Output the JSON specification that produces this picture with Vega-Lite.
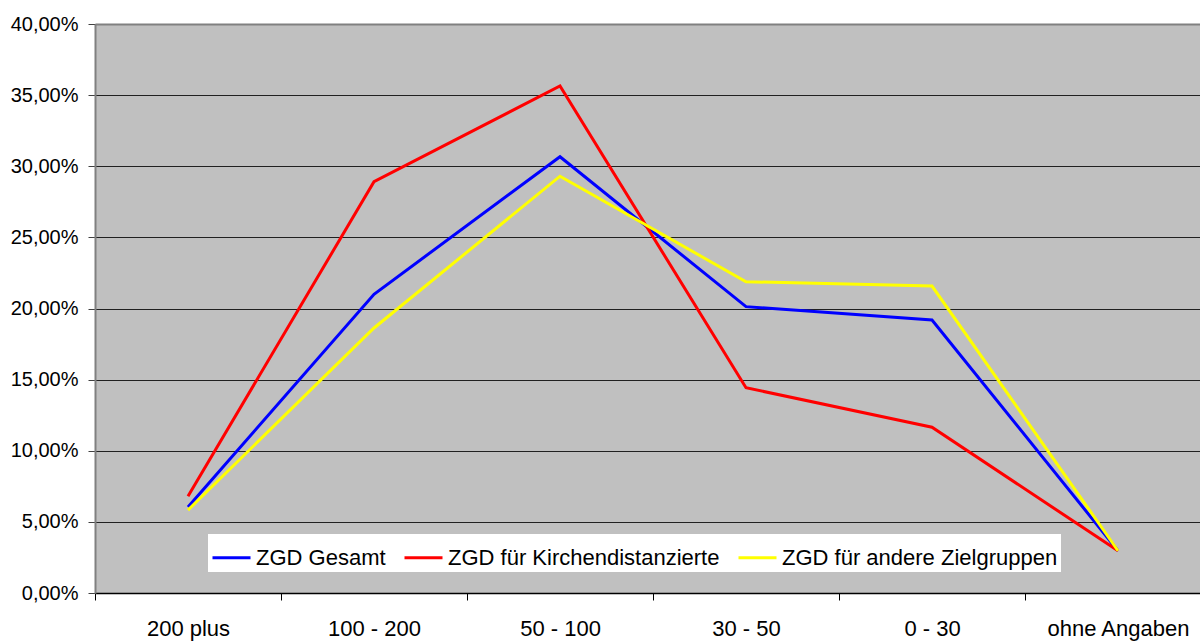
{
  "$schema": "https://vega.github.io/schema/vega-lite/v6.json",
  "autosize": {"type": "none"},
  "width": 1105,
  "height": 569,
  "padding": {"left": 95, "top": 24, "right": 0, "bottom": 50},
  "background": "#ffffff",
  "config": {
    "font": "Liberation Sans",
    "view": {"fill": "#C0C0C0", "stroke": null}
  },
  "data": {
    "values": [
      {"kat": "200 plus", "serie": "ZGD Gesamt", "wert": 0.0605},
      {"kat": "100 - 200", "serie": "ZGD Gesamt", "wert": 0.2100},
      {"kat": "50 - 100", "serie": "ZGD Gesamt", "wert": 0.3067},
      {"kat": "30 - 50", "serie": "ZGD Gesamt", "wert": 0.2013},
      {"kat": "0 - 30", "serie": "ZGD Gesamt", "wert": 0.1919},
      {"kat": "ohne Angaben", "serie": "ZGD Gesamt", "wert": 0.0297},
      {"kat": "200 plus", "serie": "ZGD für Kirchendistanzierte", "wert": 0.0680},
      {"kat": "100 - 200", "serie": "ZGD für Kirchendistanzierte", "wert": 0.2891},
      {"kat": "50 - 100", "serie": "ZGD für Kirchendistanzierte", "wert": 0.3564},
      {"kat": "30 - 50", "serie": "ZGD für Kirchendistanzierte", "wert": 0.1443},
      {"kat": "0 - 30", "serie": "ZGD für Kirchendistanzierte", "wert": 0.1165},
      {"kat": "ohne Angaben", "serie": "ZGD für Kirchendistanzierte", "wert": 0.0297},
      {"kat": "200 plus", "serie": "ZGD für andere Zielgruppen", "wert": 0.0583},
      {"kat": "100 - 200", "serie": "ZGD für andere Zielgruppen", "wert": 0.1863},
      {"kat": "50 - 100", "serie": "ZGD für andere Zielgruppen", "wert": 0.2930},
      {"kat": "30 - 50", "serie": "ZGD für andere Zielgruppen", "wert": 0.2188},
      {"kat": "0 - 30", "serie": "ZGD für andere Zielgruppen", "wert": 0.2158},
      {"kat": "ohne Angaben", "serie": "ZGD für andere Zielgruppen", "wert": 0.0297}
    ]
  },
  "mark": {"type": "line", "strokeWidth": 3, "strokeJoin": "miter"},
  "encoding": {
    "x": {
      "field": "kat",
      "type": "nominal",
      "sort": ["200 plus", "100 - 200", "50 - 100", "30 - 50", "0 - 30", "ohne Angaben"],
      "scale": {"range": [0, 1116], "paddingInner": 0, "paddingOuter": 0},
      "axis": {
        "title": null,
        "labelAngle": 0,
        "labelFontSize": 22,
        "labelColor": "#000000",
        "labelPadding": 18,
        "tickBand": "extent",
        "tickSize": 7,
        "tickColor": "#000000",
        "domainColor": "#000000",
        "domainWidth": 1.5,
        "grid": false
      }
    },
    "y": {
      "field": "wert",
      "type": "quantitative",
      "scale": {"domain": [0, 0.4], "nice": false},
      "axis": {
        "title": null,
        "values": [0, 0.05, 0.1, 0.15, 0.2, 0.25, 0.3, 0.35, 0.4],
        "labelExpr": "replace(format(datum.value, '.2%'), '.', ',')",
        "labelFontSize": 20,
        "labelColor": "#000000",
        "labelPadding": 10,
        "tickSize": 7,
        "tickColor": "#404040",
        "domainColor": "#808080",
        "domainWidth": 2,
        "grid": true,
        "gridColor": {"condition": {"test": "datum.value >= 0.4", "value": "#808080"}, "value": "#202020"},
        "gridWidth": {"condition": {"test": "datum.value >= 0.4", "value": 2}, "value": 1.2},
        "gridOpacity": 1
      }
    },
    "color": {
      "field": "serie",
      "type": "nominal",
      "sort": ["ZGD Gesamt", "ZGD für Kirchendistanzierte", "ZGD für andere Zielgruppen"],
      "scale": {
        "domain": ["ZGD Gesamt", "ZGD für Kirchendistanzierte", "ZGD für andere Zielgruppen"],
        "range": ["#0000FF", "#FF0000", "#FFFF00"]
      },
      "legend": {
        "title": null,
        "orient": "none",
        "direction": "horizontal",
        "legendX": 113,
        "legendY": 510,
        "fillColor": "#ffffff",
        "padding": 3,
        "symbolType": "stroke",
        "symbolSize": 1444,
        "symbolStrokeWidth": 3,
        "labelFontSize": 22,
        "labelColor": "#000000",
        "labelOffset": 4,
        "columnPadding": 12,
        "labelLimit": 400
      }
    },
    "order": {"field": "serie"}
  }
}
